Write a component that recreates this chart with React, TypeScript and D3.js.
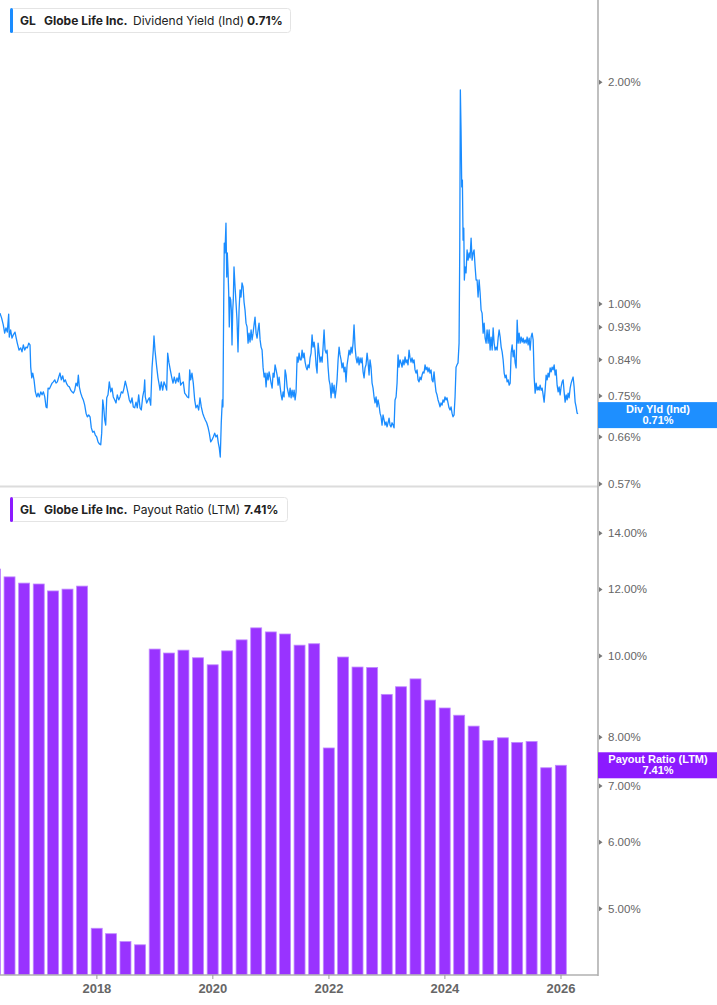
import { useEffect, useRef } from 'react';
import * as d3 from 'd3';

// Dividend yield (Ind), % — [decimal year, value]
const yield2016: [number, number][] = [
  [2016.330,0.972],[2016.359,0.957],[2016.387,0.937],[2016.411,0.913],[2016.433,0.928],[2016.456,0.916],[2016.480,0.969],[2016.490,0.902],[2016.514,0.922],[2016.537,0.899],[2016.559,0.908],[2016.589,0.916],[2016.606,0.902],[2016.628,0.885],[2016.658,0.866],[2016.687,0.872],[2016.709,0.861],[2016.732,0.880],[2016.756,0.866],[2016.778,0.874],[2016.801,0.872],[2016.825,0.885],[2016.847,0.880],[2016.859,0.821],[2016.877,0.794],[2016.894,0.806],[2016.916,0.789],[2016.939,0.760],[2016.963,0.748],[2016.985,0.757]
];
const yield2017: [number, number][] = [
  [2017.008,0.748],[2017.032,0.760],[2017.054,0.753],[2017.077,0.760],[2017.101,0.748],[2017.123,0.725],[2017.140,0.723],[2017.158,0.769],[2017.180,0.767],[2017.204,0.774],[2017.227,0.781],[2017.249,0.784],[2017.273,0.789],[2017.295,0.781],[2017.318,0.784],[2017.342,0.796],[2017.364,0.806],[2017.387,0.789],[2017.411,0.799],[2017.433,0.784],[2017.456,0.789],[2017.480,0.779],[2017.502,0.774],[2017.525,0.772],[2017.549,0.764],[2017.571,0.760],[2017.594,0.757],[2017.618,0.764],[2017.640,0.781],[2017.663,0.774],[2017.680,0.801],[2017.697,0.772],[2017.721,0.757],[2017.744,0.748],[2017.766,0.741],[2017.790,0.729],[2017.813,0.711],[2017.835,0.703],[2017.859,0.707],[2017.882,0.703],[2017.904,0.679],[2017.928,0.670],[2017.951,0.672],[2017.973,0.664],[2017.997,0.660]
];
const yield2018: [number, number][] = [
  [2018.020,0.650],[2018.042,0.646],[2018.066,0.644],[2018.083,0.668],[2018.101,0.741],[2018.118,0.723],[2018.135,0.696],[2018.152,0.685],[2018.170,0.746],[2018.192,0.753],[2018.214,0.784],[2018.239,0.760],[2018.261,0.769],[2018.283,0.748],[2018.308,0.741],[2018.330,0.734],[2018.352,0.753],[2018.377,0.741],[2018.399,0.748],[2018.421,0.760],[2018.446,0.757],[2018.468,0.769],[2018.490,0.786],[2018.514,0.772],[2018.537,0.757],[2018.559,0.741],[2018.583,0.734],[2018.606,0.746],[2018.628,0.725],[2018.652,0.723],[2018.675,0.736],[2018.697,0.723],[2018.721,0.753],[2018.744,0.723],[2018.766,0.718],[2018.790,0.748],[2018.813,0.764],[2018.825,0.789],[2018.835,0.748],[2018.859,0.734],[2018.882,0.741],[2018.904,0.746],[2018.928,0.729],[2018.951,0.819],[2018.973,0.866],[2018.985,0.905]
];
const yield2019: [number, number][] = [
  [2019.002,0.866],[2019.032,0.821],[2019.054,0.794],[2019.076,0.776],[2019.089,0.764],[2019.111,0.784],[2019.135,0.764],[2019.158,0.784],[2019.180,0.776],[2019.204,0.764],[2019.221,0.858],[2019.244,0.832],[2019.266,0.814],[2019.290,0.796],[2019.313,0.781],[2019.335,0.796],[2019.359,0.781],[2019.382,0.794],[2019.404,0.784],[2019.421,0.806],[2019.445,0.776],[2019.468,0.781],[2019.490,0.784],[2019.514,0.757],[2019.537,0.753],[2019.559,0.748],[2019.583,0.746],[2019.601,0.814],[2019.618,0.789],[2019.640,0.806],[2019.663,0.781],[2019.687,0.741],[2019.709,0.723],[2019.732,0.729],[2019.756,0.718],[2019.778,0.746],[2019.801,0.725],[2019.825,0.711],[2019.847,0.703],[2019.870,0.696],[2019.894,0.690],[2019.916,0.681],[2019.939,0.668],[2019.963,0.650],[2019.985,0.654]
];
const yield2020: [number, number][] = [
  [2020.008,0.660],[2020.032,0.668],[2020.054,0.660],[2020.076,0.664],[2020.094,0.648],[2020.111,0.638],[2020.128,0.620],[2020.145,0.690],[2020.163,0.741],[2020.174,0.725],[2020.187,1.003],[2020.197,1.210],[2020.209,1.173],[2020.226,1.288],[2020.239,1.088],[2020.249,1.173],[2020.261,1.112],[2020.273,1.035],[2020.283,0.931],[2020.295,1.022],[2020.308,1.013],[2020.318,0.981],[2020.330,0.880],[2020.342,0.981],[2020.352,1.013],[2020.364,1.123],[2020.382,1.055],[2020.399,1.003],[2020.416,0.951],[2020.433,0.861],[2020.451,0.981],[2020.468,1.045],[2020.485,1.022],[2020.502,1.068],[2020.520,1.055],[2020.537,1.006],[2020.554,0.981],[2020.571,0.942],[2020.589,0.931],[2020.606,0.885],[2020.623,0.913],[2020.640,0.888],[2020.658,0.922],[2020.675,0.894],[2020.692,0.913],[2020.709,0.937],[2020.726,0.960],[2020.744,0.913],[2020.761,0.899],[2020.778,0.922],[2020.795,0.942],[2020.813,0.894],[2020.830,0.874],[2020.847,0.866],[2020.864,0.821],[2020.882,0.796],[2020.899,0.806],[2020.916,0.772],[2020.933,0.806],[2020.951,0.789],[2020.968,0.809],[2020.985,0.796]
];
const yield2021: [number, number][] = [
  [2021.002,0.781],[2021.020,0.769],[2021.037,0.806],[2021.054,0.796],[2021.071,0.827],[2021.089,0.814],[2021.106,0.801],[2021.123,0.776],[2021.140,0.796],[2021.158,0.772],[2021.175,0.753],[2021.192,0.741],[2021.209,0.760],[2021.226,0.748],[2021.244,0.814],[2021.261,0.801],[2021.278,0.772],[2021.295,0.760],[2021.313,0.748],[2021.330,0.769],[2021.347,0.746],[2021.364,0.764],[2021.382,0.748],[2021.399,0.764],[2021.416,0.741],[2021.433,0.760],[2021.451,0.848],[2021.468,0.834],[2021.485,0.858],[2021.502,0.840],[2021.520,0.840],[2021.537,0.866],[2021.554,0.845],[2021.571,0.858],[2021.589,0.834],[2021.606,0.821],[2021.623,0.814],[2021.640,0.827],[2021.658,0.819],[2021.675,0.845],[2021.692,0.858],[2021.709,0.908],[2021.726,0.874],[2021.744,0.888],[2021.761,0.866],[2021.778,0.827],[2021.795,0.806],[2021.813,0.885],[2021.830,0.858],[2021.847,0.834],[2021.864,0.848],[2021.882,0.834],[2021.899,0.874],[2021.916,0.922],[2021.933,0.866],[2021.951,0.858],[2021.968,0.866],[2021.985,0.821]
];
const yield2022: [number, number][] = [
  [2022.002,0.789],[2022.020,0.776],[2022.037,0.746],[2022.054,0.781],[2022.071,0.757],[2022.089,0.776],[2022.106,0.746],[2022.123,0.764],[2022.140,0.789],[2022.158,0.840],[2022.175,0.874],[2022.192,0.853],[2022.209,0.840],[2022.226,0.819],[2022.244,0.832],[2022.261,0.809],[2022.278,0.821],[2022.295,0.784],[2022.313,0.827],[2022.330,0.845],[2022.347,0.866],[2022.364,0.853],[2022.382,0.874],[2022.399,0.858],[2022.416,0.885],[2022.433,0.937],[2022.451,0.874],[2022.468,0.845],[2022.485,0.832],[2022.502,0.848],[2022.520,0.827],[2022.537,0.845],[2022.554,0.832],[2022.571,0.845],[2022.589,0.809],[2022.606,0.794],[2022.623,0.819],[2022.640,0.827],[2022.658,0.858],[2022.675,0.834],[2022.692,0.801],[2022.709,0.840],[2022.726,0.821],[2022.744,0.781],[2022.761,0.769],[2022.778,0.748],[2022.795,0.734],[2022.813,0.748],[2022.830,0.725],[2022.847,0.741],[2022.864,0.729],[2022.882,0.711],[2022.899,0.703],[2022.916,0.685],[2022.933,0.707],[2022.951,0.696],[2022.968,0.685],[2022.985,0.692]
];
const yield2023: [number, number][] = [
  [2023.002,0.681],[2023.020,0.690],[2023.037,0.700],[2023.054,0.685],[2023.071,0.681],[2023.089,0.690],[2023.106,0.685],[2023.123,0.679],[2023.140,0.741],[2023.158,0.748],[2023.175,0.781],[2023.192,0.853],[2023.209,0.821],[2023.227,0.840],[2023.244,0.832],[2023.261,0.821],[2023.278,0.840],[2023.295,0.827],[2023.313,0.848],[2023.330,0.832],[2023.347,0.840],[2023.364,0.827],[2023.382,0.866],[2023.399,0.845],[2023.416,0.834],[2023.433,0.845],[2023.451,0.832],[2023.468,0.840],[2023.485,0.814],[2023.502,0.806],[2023.520,0.814],[2023.537,0.789],[2023.554,0.784],[2023.571,0.796],[2023.589,0.789],[2023.606,0.801],[2023.623,0.809],[2023.640,0.806],[2023.658,0.827],[2023.675,0.814],[2023.692,0.821],[2023.709,0.809],[2023.726,0.819],[2023.744,0.806],[2023.761,0.814],[2023.778,0.789],[2023.795,0.784],[2023.813,0.809],[2023.830,0.781],[2023.847,0.760],[2023.864,0.753],[2023.882,0.741],[2023.899,0.734],[2023.916,0.725],[2023.933,0.734],[2023.951,0.729],[2023.968,0.741],[2023.985,0.736]
];
const yield2024: [number, number][] = [
  [2024.002,0.748],[2024.020,0.741],[2024.037,0.746],[2024.054,0.734],[2024.071,0.723],[2024.089,0.718],[2024.106,0.725],[2024.123,0.711],[2024.140,0.703],[2024.158,0.707],[2024.175,0.748],[2024.192,0.821],[2024.209,0.827],[2024.226,0.832],[2024.244,0.885],[2024.256,1.195],[2024.266,1.952],[2024.278,1.722],[2024.290,1.442],[2024.301,1.473],[2024.313,1.221],[2024.325,1.268],[2024.335,1.078],[2024.347,1.123],[2024.364,1.102],[2024.382,1.184],[2024.399,1.147],[2024.416,1.173],[2024.433,1.155],[2024.451,1.229],[2024.468,1.147],[2024.485,1.173],[2024.502,1.184],[2024.520,1.123],[2024.537,1.078],[2024.554,1.078],[2024.571,1.022],[2024.589,1.078],[2024.606,1.035],[2024.623,0.981],[2024.640,0.972],[2024.658,0.913],[2024.675,0.942],[2024.692,0.899],[2024.709,0.885],[2024.726,0.922],[2024.744,0.885],[2024.761,0.922],[2024.778,0.866],[2024.795,0.902],[2024.813,0.866],[2024.830,0.928],[2024.847,0.885],[2024.864,0.866],[2024.882,0.874],[2024.899,0.866],[2024.916,0.899],[2024.933,0.922],[2024.951,0.902],[2024.968,0.874],[2024.985,0.861]
];
const yield2025: [number, number][] = [
  [2025.002,0.840],[2025.020,0.806],[2025.037,0.794],[2025.054,0.801],[2025.071,0.784],[2025.089,0.789],[2025.106,0.776],[2025.123,0.781],[2025.140,0.858],[2025.158,0.880],[2025.175,0.848],[2025.192,0.866],[2025.209,0.832],[2025.226,0.819],[2025.244,0.951],[2025.261,0.885],[2025.278,0.913],[2025.295,0.885],[2025.313,0.902],[2025.330,0.888],[2025.347,0.899],[2025.364,0.885],[2025.382,0.894],[2025.399,0.885],[2025.416,0.902],[2025.433,0.880],[2025.451,0.899],[2025.468,0.866],[2025.485,0.902],[2025.502,0.913],[2025.520,0.894],[2025.537,0.796],[2025.554,0.757],[2025.571,0.781],[2025.589,0.764],[2025.606,0.772],[2025.623,0.764],[2025.640,0.776],[2025.658,0.764],[2025.675,0.769],[2025.692,0.753],[2025.709,0.736],[2025.726,0.764],[2025.744,0.801],[2025.761,0.789],[2025.778,0.806],[2025.795,0.796],[2025.813,0.819],[2025.830,0.809],[2025.847,0.821],[2025.864,0.814],[2025.882,0.827],[2025.899,0.801],[2025.916,0.814],[2025.933,0.776],[2025.951,0.760],[2025.968,0.772],[2025.985,0.753]
];
const yield2026: [number, number][] = [
  [2026.002,0.772],[2026.020,0.784],[2026.037,0.789],[2026.054,0.760],[2026.071,0.736],[2026.089,0.753],[2026.106,0.741],[2026.123,0.757],[2026.140,0.746],[2026.158,0.769],[2026.175,0.781],[2026.192,0.789],[2026.209,0.796],[2026.226,0.772],[2026.244,0.736],[2026.261,0.725],[2026.278,0.711],[2026.295,0.710]
];

// Payout ratio (LTM), % — quarter ends
const payoutDates = [
  '2016-03-31','2016-06-30','2016-09-30','2016-12-31',
  '2017-03-31','2017-06-30','2017-09-30','2017-12-31',
  '2018-03-31','2018-06-30','2018-09-30','2018-12-31',
  '2019-03-31','2019-06-30','2019-09-30','2019-12-31',
  '2020-03-31','2020-06-30','2020-09-30','2020-12-31',
  '2021-03-31','2021-06-30','2021-09-30','2021-12-31',
  '2022-03-31','2022-06-30','2022-09-30','2022-12-31',
  '2023-03-31','2023-06-30','2023-09-30','2023-12-31',
  '2024-03-31','2024-06-30','2024-09-30','2024-12-31',
  '2025-03-31','2025-06-30','2025-09-30','2025-12-31'
];
const payoutValues = [
  12.69, 12.42, 12.21, 12.18,
  11.95, 12.01, 12.11, 4.74,
  4.67, 4.57, 4.53, 10.19,
  10.08, 10.16, 9.95, 9.76,
  10.14, 10.45, 10.80, 10.68,
  10.62, 10.30, 10.34, 7.77,
  9.97, 9.70, 9.69, 9.00,
  9.19, 9.39, 8.86, 8.67,
  8.50, 8.25, 7.93, 7.99,
  7.89, 7.91, 7.36, 7.41
];

const yieldTicks = [2.0, 1.0, 0.93, 0.84, 0.75, 0.66, 0.57];
const payoutTicks = [14, 12, 10, 8, 7, 6, 5];
const yearTicks = [2018, 2020, 2022, 2024, 2026];

const W = 717;
const H = 1005;
const PLOT_RIGHT = 598;
const SPLIT_Y = 487;
const AXIS_Y = 975;

const BLUE = '#1a8cff';
const PURPLE = '#9933ff';

function fromDecimalYear(t: number) {
  const y = Math.floor(t);
  const a = Date.UTC(y, 0, 1);
  const b = Date.UTC(y + 1, 0, 1);
  return new Date(a + (t - y) * (b - a));
}

export default function App() {
  const svgRef = useRef<SVGSVGElement>(null);

  useEffect(() => {
    if (!svgRef.current) return;
    const svg = d3.select(svgRef.current);
    svg.selectAll('*').remove();

    const x = d3.scaleUtc()
      .domain([new Date(Date.UTC(2016, 4, 1)), new Date(Date.UTC(2026, 7, 22))])
      .range([0, PLOT_RIGHT]);
    const yTop = d3.scaleLog().domain([0.5645, 2.586]).range([SPLIT_Y, 0]);
    const yBot = d3.scaleLog().domain([4.17, 15.89]).range([AXIS_Y, SPLIT_Y]);

    svg.append('rect').attr('width', W).attr('height', H).attr('fill', '#fff');

    svg.append('defs').append('clipPath').attr('id', 'plot-clip')
      .append('rect').attr('x', 0).attr('y', 0).attr('width', PLOT_RIGHT).attr('height', AXIS_Y);

    // panel separator
    svg.append('line')
      .attr('x1', 0).attr('x2', PLOT_RIGHT).attr('y1', SPLIT_Y - 0.5).attr('y2', SPLIT_Y - 0.5)
      .attr('stroke', '#dcdcdc').attr('stroke-width', 2);

    // dividend yield line
    const yieldSeries = [
      ...yield2016, ...yield2017, ...yield2018, ...yield2019, ...yield2020, ...yield2021,
      ...yield2022, ...yield2023, ...yield2024, ...yield2025, ...yield2026
    ];
    const line = d3.line<[number, number]>()
      .x(d => x(fromDecimalYear(d[0])))
      .y(d => yTop(d[1]));
    svg.append('path')
      .datum(yieldSeries)
      .attr('clip-path', 'url(#plot-clip)')
      .attr('d', line)
      .attr('fill', 'none')
      .attr('stroke', BLUE)
      .attr('stroke-width', 1.3)
      .attr('stroke-linejoin', 'round');

    // payout ratio bars
    const parse = d3.utcParse('%Y-%m-%d');
    const qDates = payoutDates.map(s => parse(s) as Date);
    const step = x(qDates[1]) - x(qDates[0]);
    const barW = step * 0.76;
    svg.append('g')
      .attr('clip-path', 'url(#plot-clip)')
      .selectAll('rect')
      .data(payoutValues)
      .join('rect')
      .attr('x', (_d, i) => x(qDates[i]) - barW / 2)
      .attr('y', d => yBot(d))
      .attr('width', barW)
      .attr('height', d => AXIS_Y - yBot(d))
      .attr('fill', PURPLE)
      .attr('stroke', '#c08aff')
      .attr('stroke-width', 0.8);

    // right axis
    svg.append('line')
      .attr('x1', PLOT_RIGHT).attr('x2', PLOT_RIGHT).attr('y1', 0).attr('y2', AXIS_Y + 1)
      .attr('stroke', '#b0b0b0').attr('stroke-width', 1.6);

    const tickGroup = (scale: d3.ScaleLogarithmic<number, number>, ticks: number[]) => {
      const g = svg.append('g');
      const t = g.selectAll('g').data(ticks).join('g')
        .attr('transform', d => `translate(${PLOT_RIGHT},${scale(d)})`);
      t.append('path').attr('d', 'M1,-2.5L4.5,0L1,2.5Z').attr('fill', '#777');
      t.append('text')
        .attr('x', 10).attr('dy', '0.35em')
        .attr('font-family', '"Liberation Sans", Arial, sans-serif')
        .attr('font-size', 11.5)
        .attr('fill', '#666')
        .text(d => `${d.toFixed(2)}%`);
    };
    tickGroup(yTop, yieldTicks);
    tickGroup(yBot, payoutTicks);

    // x axis
    svg.append('line')
      .attr('x1', 0).attr('x2', PLOT_RIGHT).attr('y1', AXIS_Y).attr('y2', AXIS_Y)
      .attr('stroke', '#b0b0b0').attr('stroke-width', 1.6);
    const xt = svg.append('g').selectAll('g').data(yearTicks).join('g')
      .attr('transform', d => `translate(${x(new Date(Date.UTC(d, 0, 1)))},${AXIS_Y})`);
    xt.append('line').attr('y1', 0).attr('y2', 4).attr('stroke', '#999');
    xt.append('text')
      .attr('y', 18).attr('text-anchor', 'middle')
      .attr('font-family', '"Liberation Sans", Arial, sans-serif')
      .attr('font-size', 13).attr('font-weight', 'bold')
      .attr('fill', '#666')
      .text(d => d);

    // legends
    const legend = (y: number, w: number, color: string, metric: string, value: string, metricX: number, valueX: number) => {
      const g = svg.append('g').attr('transform', `translate(10,${y})`);
      g.append('rect').attr('x', 0.5).attr('y', 0.5).attr('width', w).attr('height', 24)
        .attr('rx', 3).attr('fill', '#fff').attr('stroke', '#e4e4e4');
      g.append('rect').attr('x', 0).attr('y', 0).attr('width', 3).attr('height', 25)
        .attr('rx', 1.5).attr('fill', color);
      const txt = g.append('text').attr('y', 17)
        .attr('font-family', 'Inter, "Noto Sans", sans-serif')
        .attr('font-size', 12).attr('fill', '#222');
      txt.append('tspan').attr('x', 10).attr('font-weight', 'bold').text('GL');
      txt.append('tspan').attr('x', 34).attr('font-weight', 'bold').text('Globe Life Inc.');
      txt.append('tspan').attr('x', metricX).text(metric);
      txt.append('tspan').attr('x', valueX).attr('font-weight', 'bold').text(value);
    };
    legend(8, 280, BLUE, 'Dividend Yield (Ind)', '0.71%', 123, 237);
    legend(497, 277, '#8c1aff', 'Payout Ratio (LTM)', '7.41%', 123, 234);

    // last value labels
    const valueTag = (cy: number, color: string, name: string, value: string) => {
      const g = svg.append('g').attr('transform', `translate(${PLOT_RIGHT},${cy})`);
      g.append('rect').attr('x', 0).attr('y', -13).attr('width', W - PLOT_RIGHT).attr('height', 26).attr('fill', color);
      const t = g.append('text').attr('text-anchor', 'middle')
        .attr('font-family', '"Liberation Sans", Arial, sans-serif')
        .attr('font-size', 11).attr('font-weight', 'bold').attr('fill', '#fff');
      t.append('tspan').attr('x', 60).attr('y', -2).text(name);
      t.append('tspan').attr('x', 60).attr('y', 9).text(value);
    };
    valueTag(yTop(0.71) + 1.5, '#1e8fff', 'Div Yld (Ind)', '0.71%');
    valueTag(yBot(7.41) + 0, '#8c1aff', 'Payout Ratio (LTM)', '7.41%');
  }, []);

  return (
    <svg
      ref={svgRef}
      width={W}
      height={H}
      style={{ position: 'absolute', left: 0, top: 0, display: 'block' }}
    />
  );
}
